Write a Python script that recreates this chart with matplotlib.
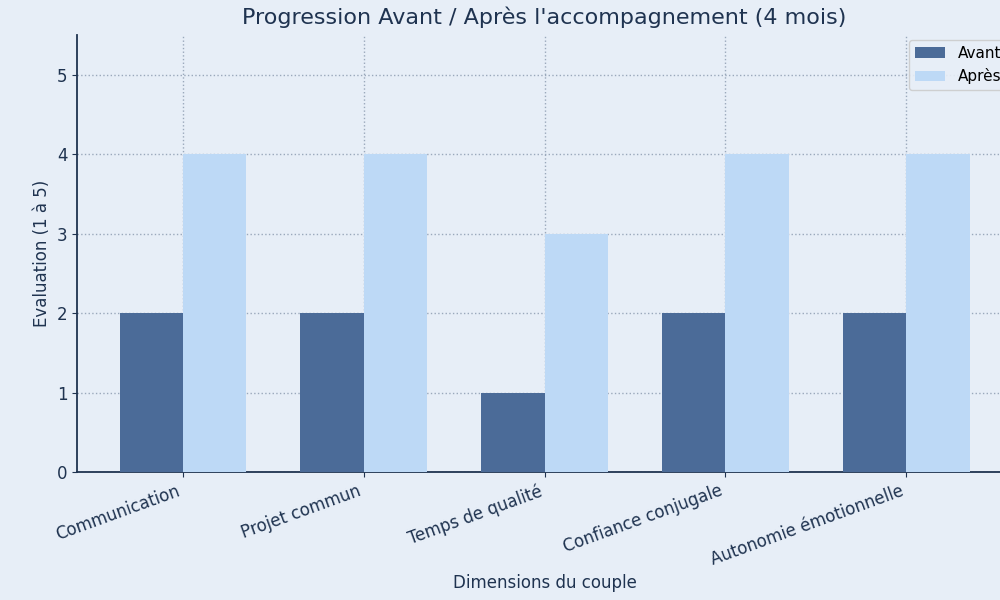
import numpy as np
from matplotlib import pyplot as plt

dimensions = ["Communication", "Projet commun", "Temps de qualité",
              "Confiance conjugale", "Autonomie émotionnelle"]
avant = [2, 2, 1, 2, 2]
apres = [4, 4, 3, 4, 4]

bg = '#e7eef7'
ink = '#1f3350'

fig = plt.figure(figsize=(10, 6), dpi=100, facecolor=bg)
ax = fig.add_axes([0.077, 0.2133, 0.935, 0.7283], facecolor=bg)

x = np.arange(len(dimensions))
w = 0.35
ax.bar(x - w/2, avant, w, color='#4b6b98', label='Avant', zorder=3)
ax.bar(x + w/2, apres, w, color='#bdd9f6', label='Après', zorder=3)

ax.set_ylim(0, 5.5)
ax.set_yticks(range(6))
ax.set_xticks(x)
ax.set_xticklabels(dimensions, rotation=20, ha='right', fontsize=12, color=ink)
ax.tick_params(axis='y', labelsize=12, colors=ink)
ax.tick_params(axis='x', colors=ink)
ax.grid(True, linestyle=':', color='#9aa8bb', linewidth=1, zorder=0)

for s in ['top', 'right']:
    ax.spines[s].set_visible(False)
for s in ['left', 'bottom']:
    ax.spines[s].set_color(ink)
    ax.spines[s].set_linewidth(1.3)

ax.set_title("Progression Avant / Après l'accompagnement (4 mois)",
             fontsize=16, color=ink, pad=8)
ax.set_ylabel("Evaluation (1 à 5)", fontsize=12, color=ink)
ax.set_xlabel("Dimensions du couple", fontsize=12, color=ink)
ax.legend(loc='upper right', fontsize=11, facecolor=bg, framealpha=0.9,
          borderaxespad=0.3)

fig.savefig('out.png', dpi=100, facecolor=bg)
